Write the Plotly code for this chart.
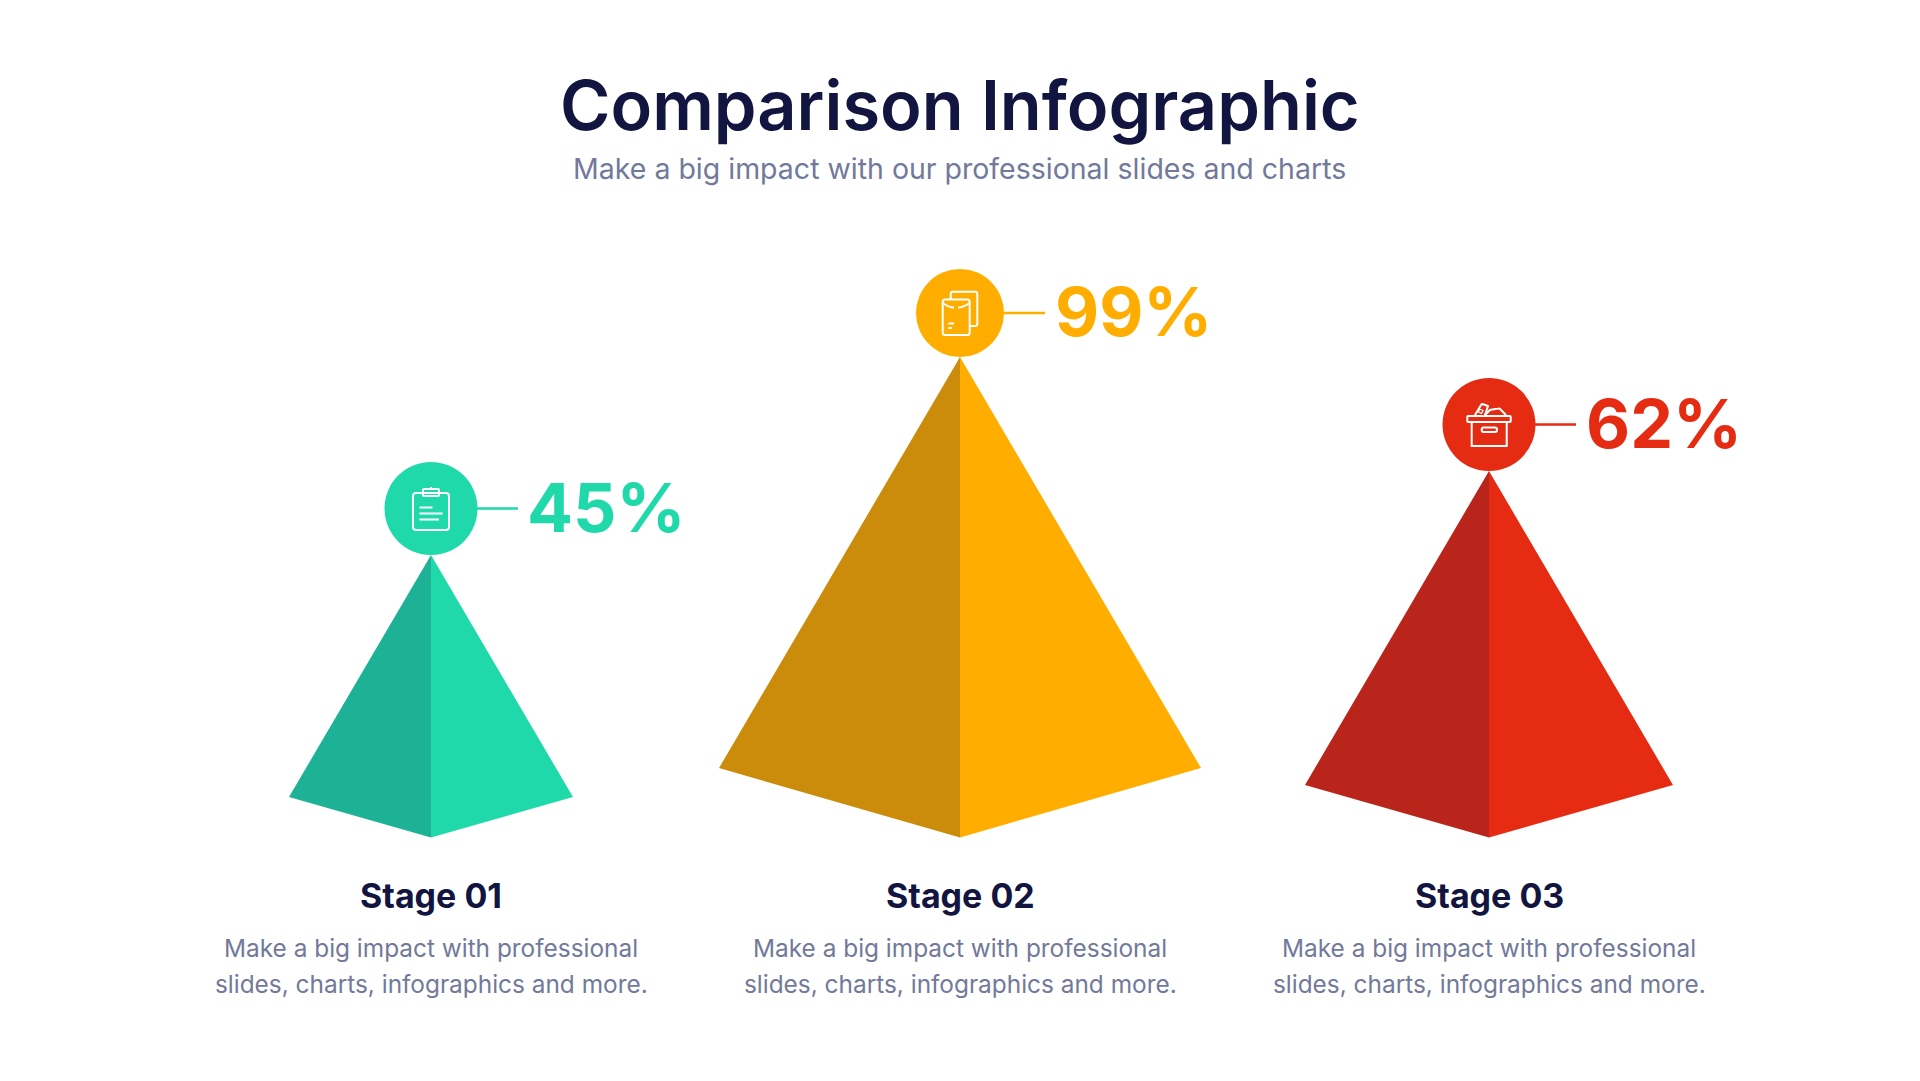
import plotly.graph_objects as go

# chart values
stages = ['Stage 01', 'Stage 02', 'Stage 03']
percents = [45, 99, 62]
desc_line1 = 'Make a big impact with professional'
desc_line2 = 'slides, charts, infographics and more.'
title = 'Comparison Infographic'
subtitle = 'Make a big impact with our professional slides and charts'

# colours per stage
light_cols = ['#20D9AB', '#FFAE00', '#E52C12']
dark_cols = ['#1DB295', '#CC8C0B', '#B9251A']
navy = '#12153F'
grey = '#72799A'
font_name = 'Inter'

# pyramid geometry in page pixels (the axes run 0-1920 / 1081-0)
centers = [431, 960, 1489]
apex_y = [555, 357, 471]
half_w = [142, 241, 184]
shoulder_y = [797, 768, 785]
tip_y = 837.5
circle_y = [508.5, 313, 424.5]
circle_d = [93, 88, 93]
line_end = [518, 1045, 1576]
pct_x = [525, 1053, 1584]

fig = go.Figure()

# pyramids, left face then right face
for i in range(3):
    c = centers[i]
    fig.add_trace(go.Scatter(x=[c, c - half_w[i], c, c],
                             y=[apex_y[i], shoulder_y[i], tip_y, apex_y[i]],
                             mode='lines', fill='toself', fillcolor=dark_cols[i],
                             line=dict(width=0), hoverinfo='skip'))
    fig.add_trace(go.Scatter(x=[c, c + half_w[i], c, c],
                             y=[apex_y[i], shoulder_y[i], tip_y, apex_y[i]],
                             mode='lines', fill='toself', fillcolor=light_cols[i],
                             line=dict(width=0), hoverinfo='skip'))
    # connector and badge
    fig.add_trace(go.Scatter(x=[c, line_end[i]], y=[circle_y[i], circle_y[i]],
                             mode='lines', line=dict(color=light_cols[i], width=2.5),
                             hoverinfo='skip'))
    fig.add_trace(go.Scatter(x=[c], y=[circle_y[i]], mode='markers',
                             marker=dict(size=circle_d[i], color=light_cols[i]),
                             hoverinfo='skip'))


def icon(path, width=2):
    fig.add_shape(type='path', path=path, xref='x', yref='y',
                  line=dict(color='white', width=width), layer='above')


# clipboard
icon('M416,493 H423 M439,493 H446 Q449,493 449,496 V527 Q449,530 446,530 H416 '
     'Q413,530 413,527 V496 Q413,493 416,493 Z')
icon('M424,489 H438 Q439,489 439,490 V495 Q439,496 438,496 H424 Q423,496 423,495 V490 Q423,489 424,489 Z')
icon('M431,489 V487')
icon('M419.5,507.5 H432.5 M419.5,513.5 H442.5 M419.5,519.5 H439')

# envelopes
icon('M945,299.5 H967.5 Q969.7,299.5 969.7,302 V332.5 Q969.7,335 967.5,335 H945 '
     'Q942.7,335 942.7,332.5 V302 Q942.7,299.5 945,299.5 Z')
icon('M942.7,303 Q950,308 954,307.5 M958,307.5 Q962,308 969.7,303')
icon('M958,307.5 A2,2 0 1,1 954,307.5 A2,2 0 1,1 958,307.5 Z')
icon('M950.7,299 V294 Q950.7,291.7 953,291.7 H975 Q977.3,291.7 977.3,294 V323.5 Q977.3,326 975,326 H970')
icon('M948.3,323.5 H954 M948.3,328 H952')

# box of papers
icon('M1468,416 H1510 Q1510.7,416 1510.7,417 V421 Q1510.7,422 1510,422 H1468 Q1467.3,422 1467.3,421 V417 Q1467.3,416 1468,416 Z')
icon('M1471.7,422 V446 H1506.7 V422')
icon('M1483.5,427.5 H1495 Q1497,427.5 1497,429.7 Q1497,432 1495,432 H1483.5 Q1481.7,432 1481.7,429.7 Q1481.7,427.5 1483.5,427.5 Z')
icon('M1475,415 L1481,405 Q1482,403.5 1484,404.5 L1488,406 L1485,415')
icon('M1485,415 L1490,410 L1498,408.5 Q1500,408 1501,410 L1506,415')
icon('M1479.5,409 L1483,410.5 L1481.5,413.5 L1478.5,412 Z', width=1.2)

# percent labels and stage text
for i in range(3):
    fig.add_annotation(x=pct_x[i], y=circle_y[i] - 2, text=f'{percents[i]}%', xanchor='left', yanchor='middle',
                       showarrow=False,
                       font=dict(family=font_name, size=68, weight=700, color=light_cols[i]))
    fig.add_annotation(x=centers[i], y=895.5, text=stages[i], xanchor='center', yanchor='middle',
                       showarrow=False, font=dict(family=font_name, size=34, weight=700, color=navy))
    fig.add_annotation(x=centers[i], y=947.5, text=desc_line1, xanchor='center', yanchor='middle',
                       showarrow=False, font=dict(family=font_name, size=24.4, color=grey))
    fig.add_annotation(x=centers[i], y=983.5, text=desc_line2, xanchor='center', yanchor='middle',
                       showarrow=False, font=dict(family=font_name, size=24.4, color=grey))

fig.add_annotation(x=959.5, y=105, text=title, xanchor='center', yanchor='middle', showarrow=False,
                   font=dict(family=font_name, size=68.5, weight=600, color=navy))
fig.add_annotation(x=959.5, y=168.5, text=subtitle, xanchor='center', yanchor='middle', showarrow=False,
                   font=dict(family=font_name, size=28.5, color=grey))

fig.update_layout(width=1920, height=1081, margin=dict(l=0, r=0, t=0, b=0),
                  paper_bgcolor='white', plot_bgcolor='white', showlegend=False,
                  xaxis=dict(range=[0, 1920], visible=False, fixedrange=True),
                  yaxis=dict(range=[1081, 0], visible=False, fixedrange=True))

# the page's default body margin would push the figure 8px off
fig.write_html('out.html', config={'displayModeBar': False},
               post_script="document.body.style.margin='0';")
